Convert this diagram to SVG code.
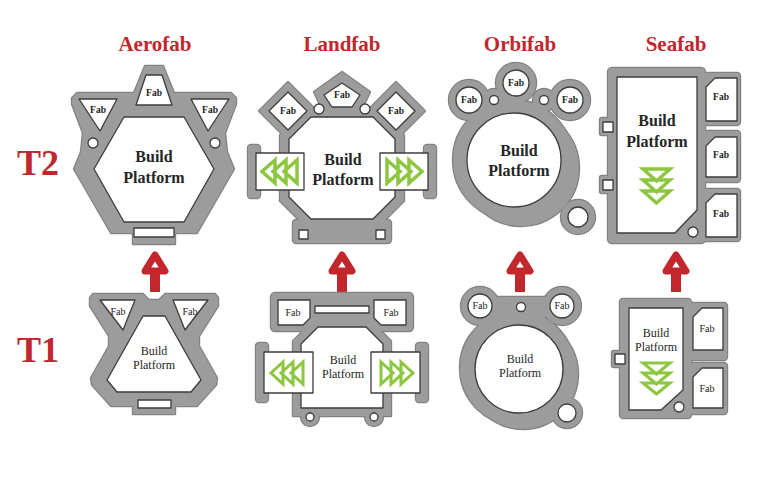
<svg xmlns="http://www.w3.org/2000/svg" width="759" height="493" viewBox="0 0 759 493">
<style>
.e{fill:#828282;stroke:#828282;stroke-width:2.4;stroke-linejoin:round}
.f{fill:#9c9c9c;stroke:none}
.w{fill:#fff;stroke:#3c3c3c;stroke-width:1.3;stroke-linejoin:round}
.t{font-family:"Liberation Serif","DejaVu Serif",serif;text-anchor:middle}
.hd{font-size:21px;font-weight:bold;fill:#c1272d}
.tier{font-size:36px;font-weight:bold;fill:#c1272d;text-anchor:start}
.fab{font-size:9.5px;font-weight:bold;fill:#222}
.fab1{font-size:10px;fill:#222}
.bp2{font-size:16px;font-weight:bold;fill:#262626}
.bp1{font-size:12px;fill:#262626}
.gr{fill:none;stroke:#8dc63f;stroke-width:3.5;stroke-linejoin:miter}
.gr1{fill:none;stroke:#8dc63f;stroke-width:3;stroke-linejoin:miter}
.arh{fill:none;stroke:#c1272d;stroke-width:7;stroke-linejoin:round}
.ars{fill:#c1272d}
</style>
<defs>
<g id="arrow">
<path class="arh" d="M0,255 L10,271 L-10,271 Z"/>
<rect class="ars" x="-5" y="274" width="10" height="18"/>
</g>
<g id="b-a2">
<polygon points="145,66 163,66 174,93 231,93 236,98 236,104 225,133 227,152 234,169 197,233 175,233 175,244 133,244 133,233 111,233 74,169 81,152 83,133 72,104 72,98 77,93 134,93"/>
</g>
<g id="b-a1">
<polygon points="93,294 143,294 149,300 159,300 165,294 215,294 218,298 218,306 199,336 199,346 217,378 216,385 197,406 175,406 175,414 133,414 133,406 111,406 92,385 91,378 109,346 109,336 90,306 90,298"/>
</g>
<g id="b-l2">
<polygon points="307,108 377,108 404,135 404,201 377,228 307,228 280,201 280,135"/>
<polygon points="342,72 370,92 359,115 325,115 314,92"/>
<polygon points="288,82 317,111 288,140 259,111"/>
<polygon points="396,82 425,111 396,140 367,111"/>
<rect x="248" y="145" width="12" height="53" rx="3"/>
<rect x="424" y="145" width="12" height="53" rx="3"/>
<rect x="293" y="220" width="98" height="23" rx="3"/>
</g>
<g id="b-l1">
<rect x="271" y="293" width="142" height="38" rx="4"/>
<polygon points="315,319 369,319 391,341 391,416 293,416 293,341"/>
<rect x="256" y="343" width="12" height="59" rx="3"/>
<rect x="416" y="343" width="12" height="59" rx="3"/>
<circle cx="310" cy="417" r="9"/>
<circle cx="374" cy="417" r="9"/>
</g>
<g id="b-o2">
<circle cx="513" cy="160" r="60"/>
<circle cx="521" cy="168" r="58"/>
<circle cx="469" cy="100" r="20"/>
<circle cx="516" cy="83" r="20"/>
<circle cx="570" cy="100" r="20"/>
<circle cx="494" cy="100" r="11"/>
<circle cx="544" cy="100" r="11"/>
<circle cx="578" cy="217" r="17"/>
</g>
<g id="b-o1">
<circle cx="517" cy="368" r="57"/>
<circle cx="523" cy="374" r="55"/>
<circle cx="480" cy="306" r="19"/>
<circle cx="562" cy="306" r="19"/>
<rect x="480" y="297" width="82" height="20"/>
<circle cx="567" cy="413" r="15"/>
</g>
<g id="b-s2">
<rect x="608" y="68" width="97" height="175" rx="4"/>
<rect x="600" y="118" width="15" height="17" rx="2"/>
<rect x="600" y="176" width="15" height="17" rx="2"/>
<rect x="700" y="73" width="40" height="52" rx="3"/>
<rect x="700" y="131" width="40" height="51" rx="3"/>
<rect x="700" y="189" width="40" height="52" rx="3"/>
</g>
<g id="b-s1">
<rect x="620" y="299" width="71" height="119" rx="3"/>
<rect x="612" y="351" width="15" height="16" rx="2"/>
<rect x="690" y="303" width="37" height="57" rx="3"/>
<rect x="690" y="363" width="37" height="51" rx="3"/>
</g>
</defs>

<g id="headers">
<text class="t hd" x="155" y="51">Aerofab</text>
<text class="t hd" x="342" y="51">Landfab</text>
<text class="t hd" x="520" y="51">Orbifab</text>
<text class="t hd" x="676" y="51">Seafab</text>
<text class="t tier" x="17" y="175">T2</text>
<text class="t tier" x="17" y="362">T1</text>
</g>

<g id="connectors">
<use href="#arrow" x="155"/>
<use href="#arrow" x="342"/>
<use href="#arrow" x="520"/>
<use href="#arrow" x="676"/>
</g>

<g id="aerofab-t2">
<use href="#b-a2" class="e"/><use href="#b-a2" class="f"/>
<polygon class="w" points="94,169 124,117 184,117 214,169 184,222 124,222"/>
<polygon class="w" points="146,75 162,75 172,105 136,105"/>
<polygon class="w" points="79,99 117,99 100,131"/>
<polygon class="w" points="191,99 229,99 208,131"/>
<circle class="w" cx="93" cy="143" r="5"/>
<circle class="w" cx="215" cy="143" r="5"/>
<rect class="w" x="134" y="228" width="40" height="9"/>
<text class="t fab" x="154" y="96">Fab</text>
<text class="t fab" x="98" y="113">Fab</text>
<text class="t fab" x="210" y="113">Fab</text>
<text class="t bp2" x="154" y="162">Build</text>
<text class="t bp2" x="154" y="183">Platform</text>
</g>

<g id="aerofab-t1">
<use href="#b-a1" class="e"/><use href="#b-a1" class="f"/>
<polygon class="w" points="143,316 165,316 201,380 191,392 117,392 107,380"/>
<polygon class="w" points="100,300 135,300 123,330"/>
<polygon class="w" points="173,300 208,300 185,330"/>
<rect class="w" x="138" y="400" width="33" height="8"/>
<text class="t fab1" x="118" y="315">Fab</text>
<text class="t fab1" x="190" y="315">Fab</text>
<text class="t bp1" x="154" y="355">Build</text>
<text class="t bp1" x="154" y="369">Platform</text>
</g>

<g id="landfab-t2">
<use href="#b-l2" class="e"/><use href="#b-l2" class="f"/>
<polygon class="w" points="311,117 373,117 395,139 395,197 373,219 311,219 289,197 289,139"/>
<polygon class="w" points="342,83 360,95 352,107 332,107 324,95"/>
<polygon class="w" points="288,92 307,111 288,130 269,111"/>
<polygon class="w" points="396,92 415,111 396,130 377,111"/>
<circle class="w" cx="319" cy="109" r="5"/>
<circle class="w" cx="365" cy="109" r="5"/>
<rect class="w" x="256" y="153" width="48" height="37"/>
<rect class="w" x="380" y="153" width="48" height="37"/>
<rect class="w" x="299" y="230" width="9" height="9"/>
<rect class="w" x="376" y="230" width="9" height="9"/>
<path class="gr" d="M275,160 L262,171.5 L275,183 Z M286,160 L273,171.5 L286,183 Z M297,160 L284,171.5 L297,183 Z"/>
<path class="gr" d="M387,160 L400,171.5 L387,183 Z M398,160 L411,171.5 L398,183 Z M409,160 L422,171.5 L409,183 Z"/>
<text class="t fab" x="342" y="98">Fab</text>
<text class="t fab" x="288" y="114">Fab</text>
<text class="t fab" x="396" y="114">Fab</text>
<text class="t bp2" x="343" y="165">Build</text>
<text class="t bp2" x="343" y="185">Platform</text>
</g>

<g id="landfab-t1">
<use href="#b-l1" class="e"/><use href="#b-l1" class="f"/>
<rect class="w" x="315" y="306" width="54" height="7"/>
<polygon class="w" points="278,300 310,300 310,318 303,325 278,325"/>
<polygon class="w" points="374,300 406,300 406,325 381,325 374,318"/>
<polygon class="w" points="318,327 366,327 383,344 383,408 301,408 301,344"/>
<rect class="w" x="264" y="352" width="49" height="41"/>
<rect class="w" x="371" y="352" width="49" height="41"/>
<circle class="w" cx="310" cy="417" r="4"/>
<circle class="w" cx="374" cy="417" r="4"/>
<path class="gr1" d="M283,362 L271,373 L283,384 Z M293,362 L281,373 L293,384 Z M303,362 L291,373 L303,384 Z"/>
<path class="gr1" d="M381,362 L393,373 L381,384 Z M391,362 L403,373 L391,384 Z M401,362 L413,373 L401,384 Z"/>
<text class="t fab1" x="293" y="316">Fab</text>
<text class="t fab1" x="391" y="316">Fab</text>
<text class="t bp1" x="343" y="364">Build</text>
<text class="t bp1" x="343" y="378">Platform</text>
</g>

<g id="orbifab-t2">
<use href="#b-o2" class="e"/><use href="#b-o2" class="f"/>
<circle class="w" cx="514" cy="160" r="47"/>
<circle class="w" cx="469" cy="100" r="13"/>
<circle class="w" cx="516" cy="83" r="13"/>
<circle class="w" cx="570" cy="100" r="13"/>
<circle class="w" cx="494" cy="100" r="4.5"/>
<circle class="w" cx="544" cy="100" r="4.5"/>
<circle class="w" cx="578" cy="217" r="10"/>
<text class="t fab" x="469" y="103">Fab</text>
<text class="t fab" x="516" y="86">Fab</text>
<text class="t fab" x="570" y="103">Fab</text>
<text class="t bp2" x="519" y="156">Build</text>
<text class="t bp2" x="519" y="176">Platform</text>
</g>

<g id="orbifab-t1">
<use href="#b-o1" class="e"/><use href="#b-o1" class="f"/>
<circle class="w" cx="519" cy="369" r="44"/>
<circle class="w" cx="480" cy="306" r="12"/>
<circle class="w" cx="562" cy="306" r="12"/>
<circle class="w" cx="521" cy="307" r="4.5"/>
<circle class="w" cx="567" cy="413" r="9"/>
<text class="t fab1" x="480" y="309">Fab</text>
<text class="t fab1" x="562" y="309">Fab</text>
<text class="t bp1" x="520" y="363">Build</text>
<text class="t bp1" x="520" y="377">Platform</text>
</g>

<g id="seafab-t2">
<use href="#b-s2" class="e"/><use href="#b-s2" class="f"/>
<polygon class="w" points="617,77 697,77 697,210 675,233 617,233"/>
<rect class="w" x="603" y="122" width="10" height="10"/>
<rect class="w" x="603" y="180" width="10" height="10"/>
<circle class="w" cx="693" cy="232" r="5"/>
<polygon class="w" points="715,78 737,78 737,121 706,121 706,87"/>
<polygon class="w" points="715,137 737,137 737,177 706,177 706,146"/>
<polygon class="w" points="715,194 737,194 737,237 706,237 706,203"/>
<path class="gr" d="M643,169 L670,169 L656.5,181 Z M643,180 L670,180 L656.5,192 Z M643,191 L670,191 L656.5,203 Z"/>
<text class="t fab" x="721" y="100">Fab</text>
<text class="t fab" x="721" y="158">Fab</text>
<text class="t fab" x="721" y="217">Fab</text>
<text class="t bp2" x="657" y="126">Build</text>
<text class="t bp2" x="657" y="147">Platform</text>
</g>

<g id="seafab-t1">
<use href="#b-s1" class="e"/><use href="#b-s1" class="f"/>
<polygon class="w" points="629,308 683,308 683,390 661,410 629,410"/>
<rect class="w" x="615" y="354" width="10" height="10"/>
<circle class="w" cx="679" cy="407" r="5"/>
<polygon class="w" points="702,308 723,308 723,350 693,350 693,317"/>
<polygon class="w" points="702,368 723,368 723,408 693,408 693,377"/>
<path class="gr1" d="M643,363 L670,363 L656.5,374 Z M643,373 L670,373 L656.5,384 Z M643,383 L670,383 L656.5,394 Z"/>
<text class="t fab1" x="707" y="332">Fab</text>
<text class="t fab1" x="707" y="392">Fab</text>
<text class="t bp1" x="656" y="337">Build</text>
<text class="t bp1" x="656" y="351">Platform</text>
</g>
</svg>
